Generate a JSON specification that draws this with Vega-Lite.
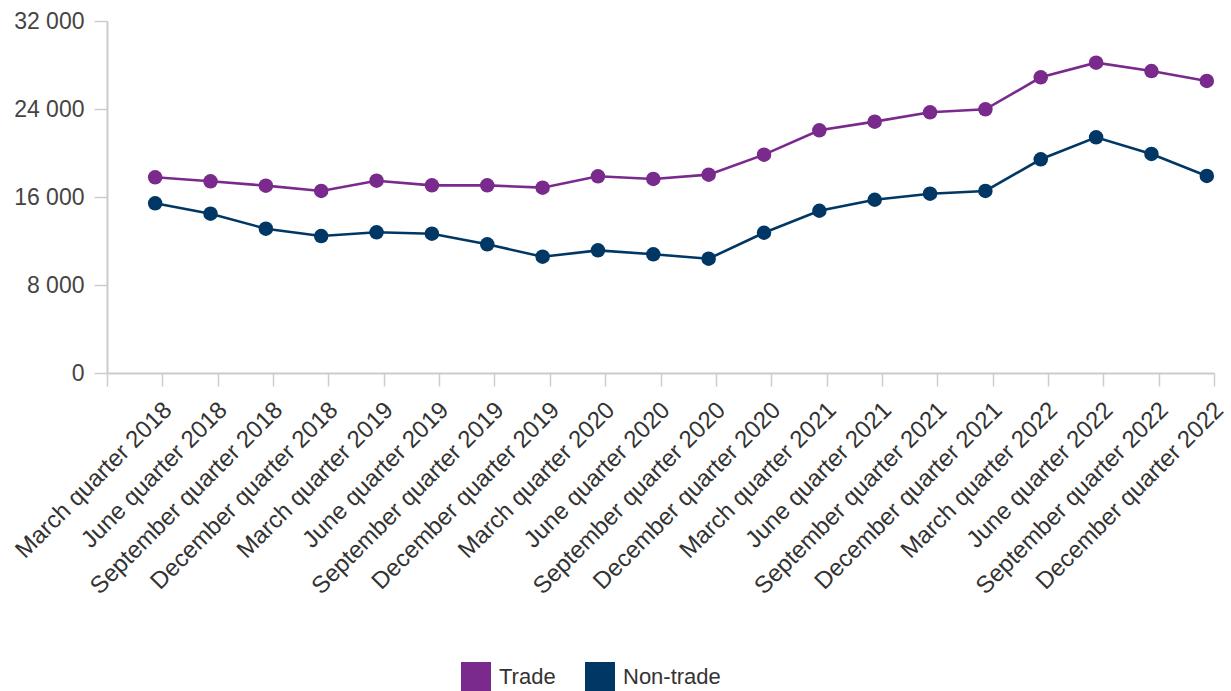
{
  "$schema": "https://vega.github.io/schema/vega-lite/v6.json",
  "width": 1107,
  "height": 352,
  "autosize": "none",
  "padding": {"left": 107, "top": 21, "right": 17, "bottom": 318},
  "config": {
    "font": "Liberation Sans",
    "view": {"stroke": null}
  },
  "data": {
    "values": [
      {"quarter": "March quarter 2018", "series": "Trade", "value": 17790},
      {"quarter": "June quarter 2018", "series": "Trade", "value": 17430},
      {"quarter": "September quarter 2018", "series": "Trade", "value": 17030},
      {"quarter": "December quarter 2018", "series": "Trade", "value": 16550},
      {"quarter": "March quarter 2019", "series": "Trade", "value": 17480},
      {"quarter": "June quarter 2019", "series": "Trade", "value": 17060},
      {"quarter": "September quarter 2019", "series": "Trade", "value": 17060},
      {"quarter": "December quarter 2019", "series": "Trade", "value": 16850},
      {"quarter": "March quarter 2020", "series": "Trade", "value": 17880},
      {"quarter": "June quarter 2020", "series": "Trade", "value": 17640},
      {"quarter": "September quarter 2020", "series": "Trade", "value": 18030},
      {"quarter": "December quarter 2020", "series": "Trade", "value": 19850},
      {"quarter": "March quarter 2021", "series": "Trade", "value": 22060},
      {"quarter": "June quarter 2021", "series": "Trade", "value": 22850},
      {"quarter": "September quarter 2021", "series": "Trade", "value": 23700},
      {"quarter": "December quarter 2021", "series": "Trade", "value": 23970},
      {"quarter": "March quarter 2022", "series": "Trade", "value": 26880},
      {"quarter": "June quarter 2022", "series": "Trade", "value": 28210},
      {"quarter": "September quarter 2022", "series": "Trade", "value": 27450},
      {"quarter": "December quarter 2022", "series": "Trade", "value": 26550},
      {"quarter": "March quarter 2018", "series": "Non-trade", "value": 15430},
      {"quarter": "June quarter 2018", "series": "Non-trade", "value": 14480},
      {"quarter": "September quarter 2018", "series": "Non-trade", "value": 13120},
      {"quarter": "December quarter 2018", "series": "Non-trade", "value": 12450},
      {"quarter": "March quarter 2019", "series": "Non-trade", "value": 12790},
      {"quarter": "June quarter 2019", "series": "Non-trade", "value": 12660},
      {"quarter": "September quarter 2019", "series": "Non-trade", "value": 11700},
      {"quarter": "December quarter 2019", "series": "Non-trade", "value": 10570},
      {"quarter": "March quarter 2020", "series": "Non-trade", "value": 11150},
      {"quarter": "June quarter 2020", "series": "Non-trade", "value": 10790},
      {"quarter": "September quarter 2020", "series": "Non-trade", "value": 10390},
      {"quarter": "December quarter 2020", "series": "Non-trade", "value": 12750},
      {"quarter": "March quarter 2021", "series": "Non-trade", "value": 14750},
      {"quarter": "June quarter 2021", "series": "Non-trade", "value": 15750},
      {"quarter": "September quarter 2021", "series": "Non-trade", "value": 16300},
      {"quarter": "December quarter 2021", "series": "Non-trade", "value": 16550},
      {"quarter": "March quarter 2022", "series": "Non-trade", "value": 19430},
      {"quarter": "June quarter 2022", "series": "Non-trade", "value": 21430},
      {"quarter": "September quarter 2022", "series": "Non-trade", "value": 19910},
      {"quarter": "December quarter 2022", "series": "Non-trade", "value": 17910}
    ]
  },
  "encoding": {
    "x": {
      "field": "quarter",
      "type": "ordinal",
      "sort": null,
      "bandPosition": 0.87,
      "scale": {"type": "band", "paddingInner": 0, "paddingOuter": 0},
      "axis": {
        "title": null,
        "tickBand": "extent",
        "labelAngle": -45,
        "labelAlign": "right",
        "labelBaseline": "middle",
        "labelOffset": 33,
        "labelPadding": 20,
        "labelLimit": 0,
        "labelOverlap": false,
        "tickSize": 13,
        "tickColor": "#cccccc",
        "tickWidth": 1.5,
        "domainColor": "#cccccc",
        "domainWidth": 2,
        "labelFontSize": 24,
        "labelColor": "#333333",
        "labelFont": "Liberation Sans"
      }
    },
    "y": {
      "field": "value",
      "type": "quantitative",
      "scale": {"domain": [0, 32000], "nice": false},
      "axis": {
        "title": null,
        "values": [0, 8000, 16000, 24000, 32000],
        "labelExpr": "datum.value == 0 ? '0' : format(datum.value / 1000, 'd') + ' 000'",
        "grid": false,
        "tickSize": 13,
        "tickColor": "#cccccc",
        "tickWidth": 1.5,
        "domainColor": "#cccccc",
        "domainWidth": 2,
        "labelFontSize": 23,
        "labelColor": "#444444",
        "labelPadding": 10,
        "labelFont": "Liberation Sans"
      }
    },
    "color": {
      "field": "series",
      "type": "nominal",
      "sort": ["Trade", "Non-trade"],
      "scale": {"domain": ["Trade", "Non-trade"], "range": ["#7A2A8C", "#003764"]},
      "legend": {
        "title": null,
        "orient": "none",
        "legendX": 354,
        "legendY": 641,
        "direction": "horizontal",
        "symbolType": "square",
        "symbolSize": 900,
        "symbolStrokeWidth": 0,
        "symbolOpacity": 1,
        "labelFontSize": 22,
        "labelColor": "#333333",
        "labelFont": "Liberation Sans",
        "labelOffset": 8,
        "columnPadding": 29
      }
    }
  },
  "layer": [
    {"mark": {"type": "line", "strokeWidth": 2.6}},
    {"mark": {"type": "point", "filled": true, "size": 210, "opacity": 1}}
  ]
}
